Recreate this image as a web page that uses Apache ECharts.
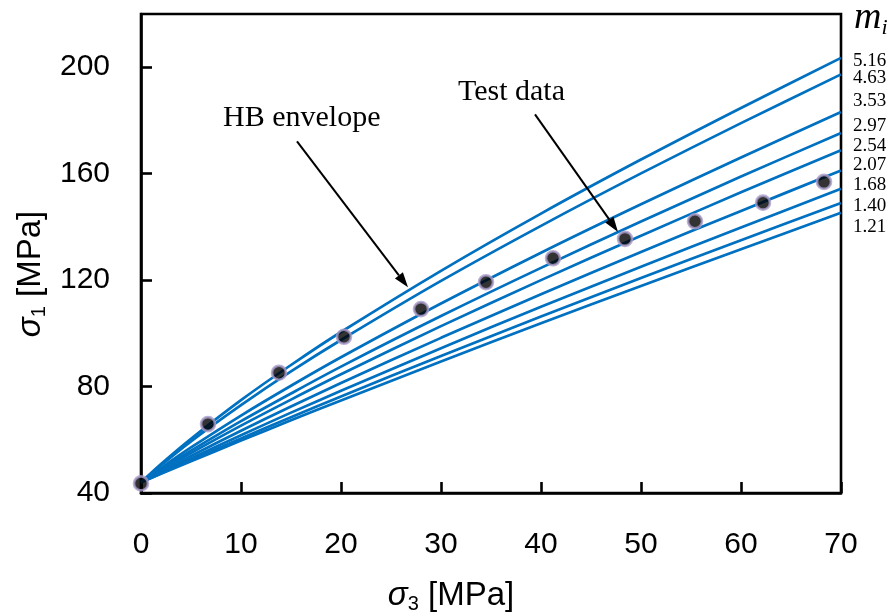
<!DOCTYPE html>
<html>
<head>
<meta charset="utf-8">
<script src="https://cdn.jsdelivr.net/npm/echarts@6/dist/echarts.min.js"></script>
<style>html,body{margin:0;padding:0;background:#fff}#c{width:894px;height:616px}</style>
</head>
<body>
<div id="c"></div>
<script>
// sigma3 sample positions [MPa]
const sigma3 = [0, 2, 5, 10, 15, 20, 30, 40, 50, 60, 70];
// mi values of the HB envelopes
const miLabels = ['5.16', '4.63', '3.53', '2.97', '2.54', '2.07', '1.68', '1.40', '1.21'];
// sigma1 [MPa] for each envelope
const hb516 = [44, 50.9, 60.4, 74.9, 88.1, 100.5, 123.5, 145.0, 165.3, 184.7, 203.5];
const hb463 = [44, 50.4, 59.4, 73.0, 85.7, 97.5, 119.7, 140.4, 160.1, 179.0, 197.3];
const hb353 = [44, 49.4, 57.1, 69.1, 80.3, 91.0, 111.2, 130.3, 148.5, 166.1, 183.2];
const hb297 = [44, 48.9, 55.9, 67.0, 77.4, 87.5, 106.5, 124.6, 142.0, 158.9, 175.3];
const hb254 = [44, 48.5, 55.0, 65.3, 75.1, 84.6, 102.7, 120.0, 136.7, 153.0, 168.8];
const hb207 = [44, 48.0, 53.9, 63.4, 72.5, 81.3, 98.3, 114.7, 130.6, 146.0, 161.2];
const hb168 = [44, 47.6, 53.0, 61.7, 70.2, 78.4, 94.4, 110.0, 125.0, 139.8, 154.3];
const hb140 = [44, 47.4, 52.4, 60.5, 68.5, 76.3, 91.5, 106.3, 120.8, 135.0, 149.0];
const hb121 = [44, 47.2, 51.9, 59.7, 67.3, 74.8, 89.4, 103.8, 117.8, 131.6, 145.3];
// test data
const testS3 = [0, 6.7, 13.8, 20.3, 28.0, 34.5, 41.2, 48.4, 55.4, 62.2, 68.3];
const testS1 = [43.6, 65.9, 85.2, 98.7, 109.1, 119.2, 128.2, 135.5, 142.1, 149.1, 156.9];
// axis ticks
const xTicks = [0, 10, 20, 30, 40, 50, 60, 70];
const yTicks = [40, 80, 120, 160, 200];
// annotation arrows in data coordinates: [from, to]
const arrowHB = [[15.6, 172.1], [26.7, 117.3]];
const arrowTest = [[39.4, 182.3], [47.7, 138.1]];

const curves = [hb516, hb463, hb353, hb297, hb254, hb207, hb168, hb140, hb121];
// layout of mi labels (pixel y centres)
const miLabelY = [62, 79, 102, 127, 147, 166, 186, 207, 228];

const chart = echarts.init(document.getElementById('c'), null, {renderer: 'canvas'});
const lineSeries = curves.map((arr, i) => ({
  type: 'line', name: 'mi=' + miLabels[i],
  data: sigma3.map((s, j) => [s, arr[j]]),
  smooth: 0.3, symbol: 'none',
  lineStyle: {color: '#0070C0', width: 2.7},
  z: 2, silent: true
}));

const nameRich = {
  s: {font: 'italic 33px "Liberation Sans"', fill: '#000'},
  n: {font: '20px "Liberation Sans"', fill: '#000', padding: [16, 0, 0, 0]},
  t: {font: '33px "Liberation Sans"', fill: '#000'}
};
const graphics = [
  {type: 'text', left: 223, top: 103, style: {text: 'HB envelope', font: '30px "Liberation Serif"', fill: '#000'}},
  {type: 'text', left: 458, top: 77, style: {text: 'Test data', font: '30px "Liberation Serif"', fill: '#000'}},
  {type: 'text', left: 854, top: -1, style: {
    text: '{m|m}{i|i}', rich: {
      m: {font: 'italic 38px "Liberation Serif"', fill: '#000'},
      i: {font: 'italic 22px "Liberation Serif"', fill: '#000', padding: [20, 0, 0, 0]}
    }}},
  {type: 'text', x: 31, y: 274, rotation: Math.PI / 2, style: {
    text: '{s|σ}{n|1}{t| [MPa]}', align: 'center', verticalAlign: 'middle', rich: nameRich}},
  {type: 'text', x: 451, y: 596, style: {
    text: '{s|σ}{n|3}{t| [MPa]}', align: 'center', verticalAlign: 'middle', rich: nameRich}}
];
miLabels.forEach((t, i) => {
  graphics.push({type: 'text', left: 853, top: miLabelY[i] - 10,
    style: {text: t, font: '19px "Liberation Serif"', fill: '#000'}});
});

chart.setOption({
  animation: false,
  backgroundColor: '#fff',
  grid: {left: 141, right: 53, top: 14, bottom: 123, show: true, borderColor: '#000', borderWidth: 2.6, containLabel: false},
  xAxis: {
    type: 'value', min: xTicks[0], max: xTicks[xTicks.length - 1], interval: 10,
    axisLine: {show: true, lineStyle: {color: '#000', width: 2.6}},
    axisTick: {show: true, inside: true, length: 11, lineStyle: {color: '#000', width: 2.6}},
    splitLine: {show: false},
    axisLabel: {color: '#000', fontSize: 30, fontFamily: 'Liberation Sans', margin: 37}
  },
  yAxis: {
    type: 'value', min: yTicks[0], max: 220, interval: 40,
    axisLine: {show: true, lineStyle: {color: '#000', width: 2.6}},
    axisTick: {show: true, inside: true, length: 11, lineStyle: {color: '#000', width: 2.6}},
    splitLine: {show: false},
    axisLabel: {color: '#000', fontSize: 30, fontFamily: 'Liberation Sans', margin: 31, showMaxLabel: false,
      formatter: v => (yTicks.indexOf(v) >= 0 ? String(v) : '')}
  },
  graphic: graphics,
  series: lineSeries.concat([{
    type: 'scatter', name: 'Test data',
    data: testS3.map((s, j) => [s, testS1[j]]),
    symbol: 'circle', symbolSize: 14,
    itemStyle: {color: '#000', borderColor: '#A99BC9', borderWidth: 2.6},
    z: 5, silent: true
  }])
});

// arrows: convert data coords through the chart's own scales
function arrowGraphics(a) {
  const p0 = chart.convertToPixel({gridIndex: 0}, a[0]);
  const p1 = chart.convertToPixel({gridIndex: 0}, a[1]);
  const dx = p1[0] - p0[0], dy = p1[1] - p0[1];
  const L = Math.sqrt(dx * dx + dy * dy);
  const ux = dx / L, uy = dy / L;
  const head = 15, half = 5;
  const bx = p1[0] - ux * head, by = p1[1] - uy * head;
  return [
    {type: 'line', shape: {x1: p0[0], y1: p0[1], x2: bx, y2: by}, style: {stroke: '#000', lineWidth: 2}, z: 10},
    {type: 'polygon', shape: {points: [[p1[0], p1[1]], [bx - uy * half, by + ux * half], [bx + uy * half, by - ux * half]]},
      style: {fill: '#000'}, z: 10}
  ];
}
chart.setOption({graphic: graphics.concat(arrowGraphics(arrowHB), arrowGraphics(arrowTest))});
</script>
</body>
</html>
